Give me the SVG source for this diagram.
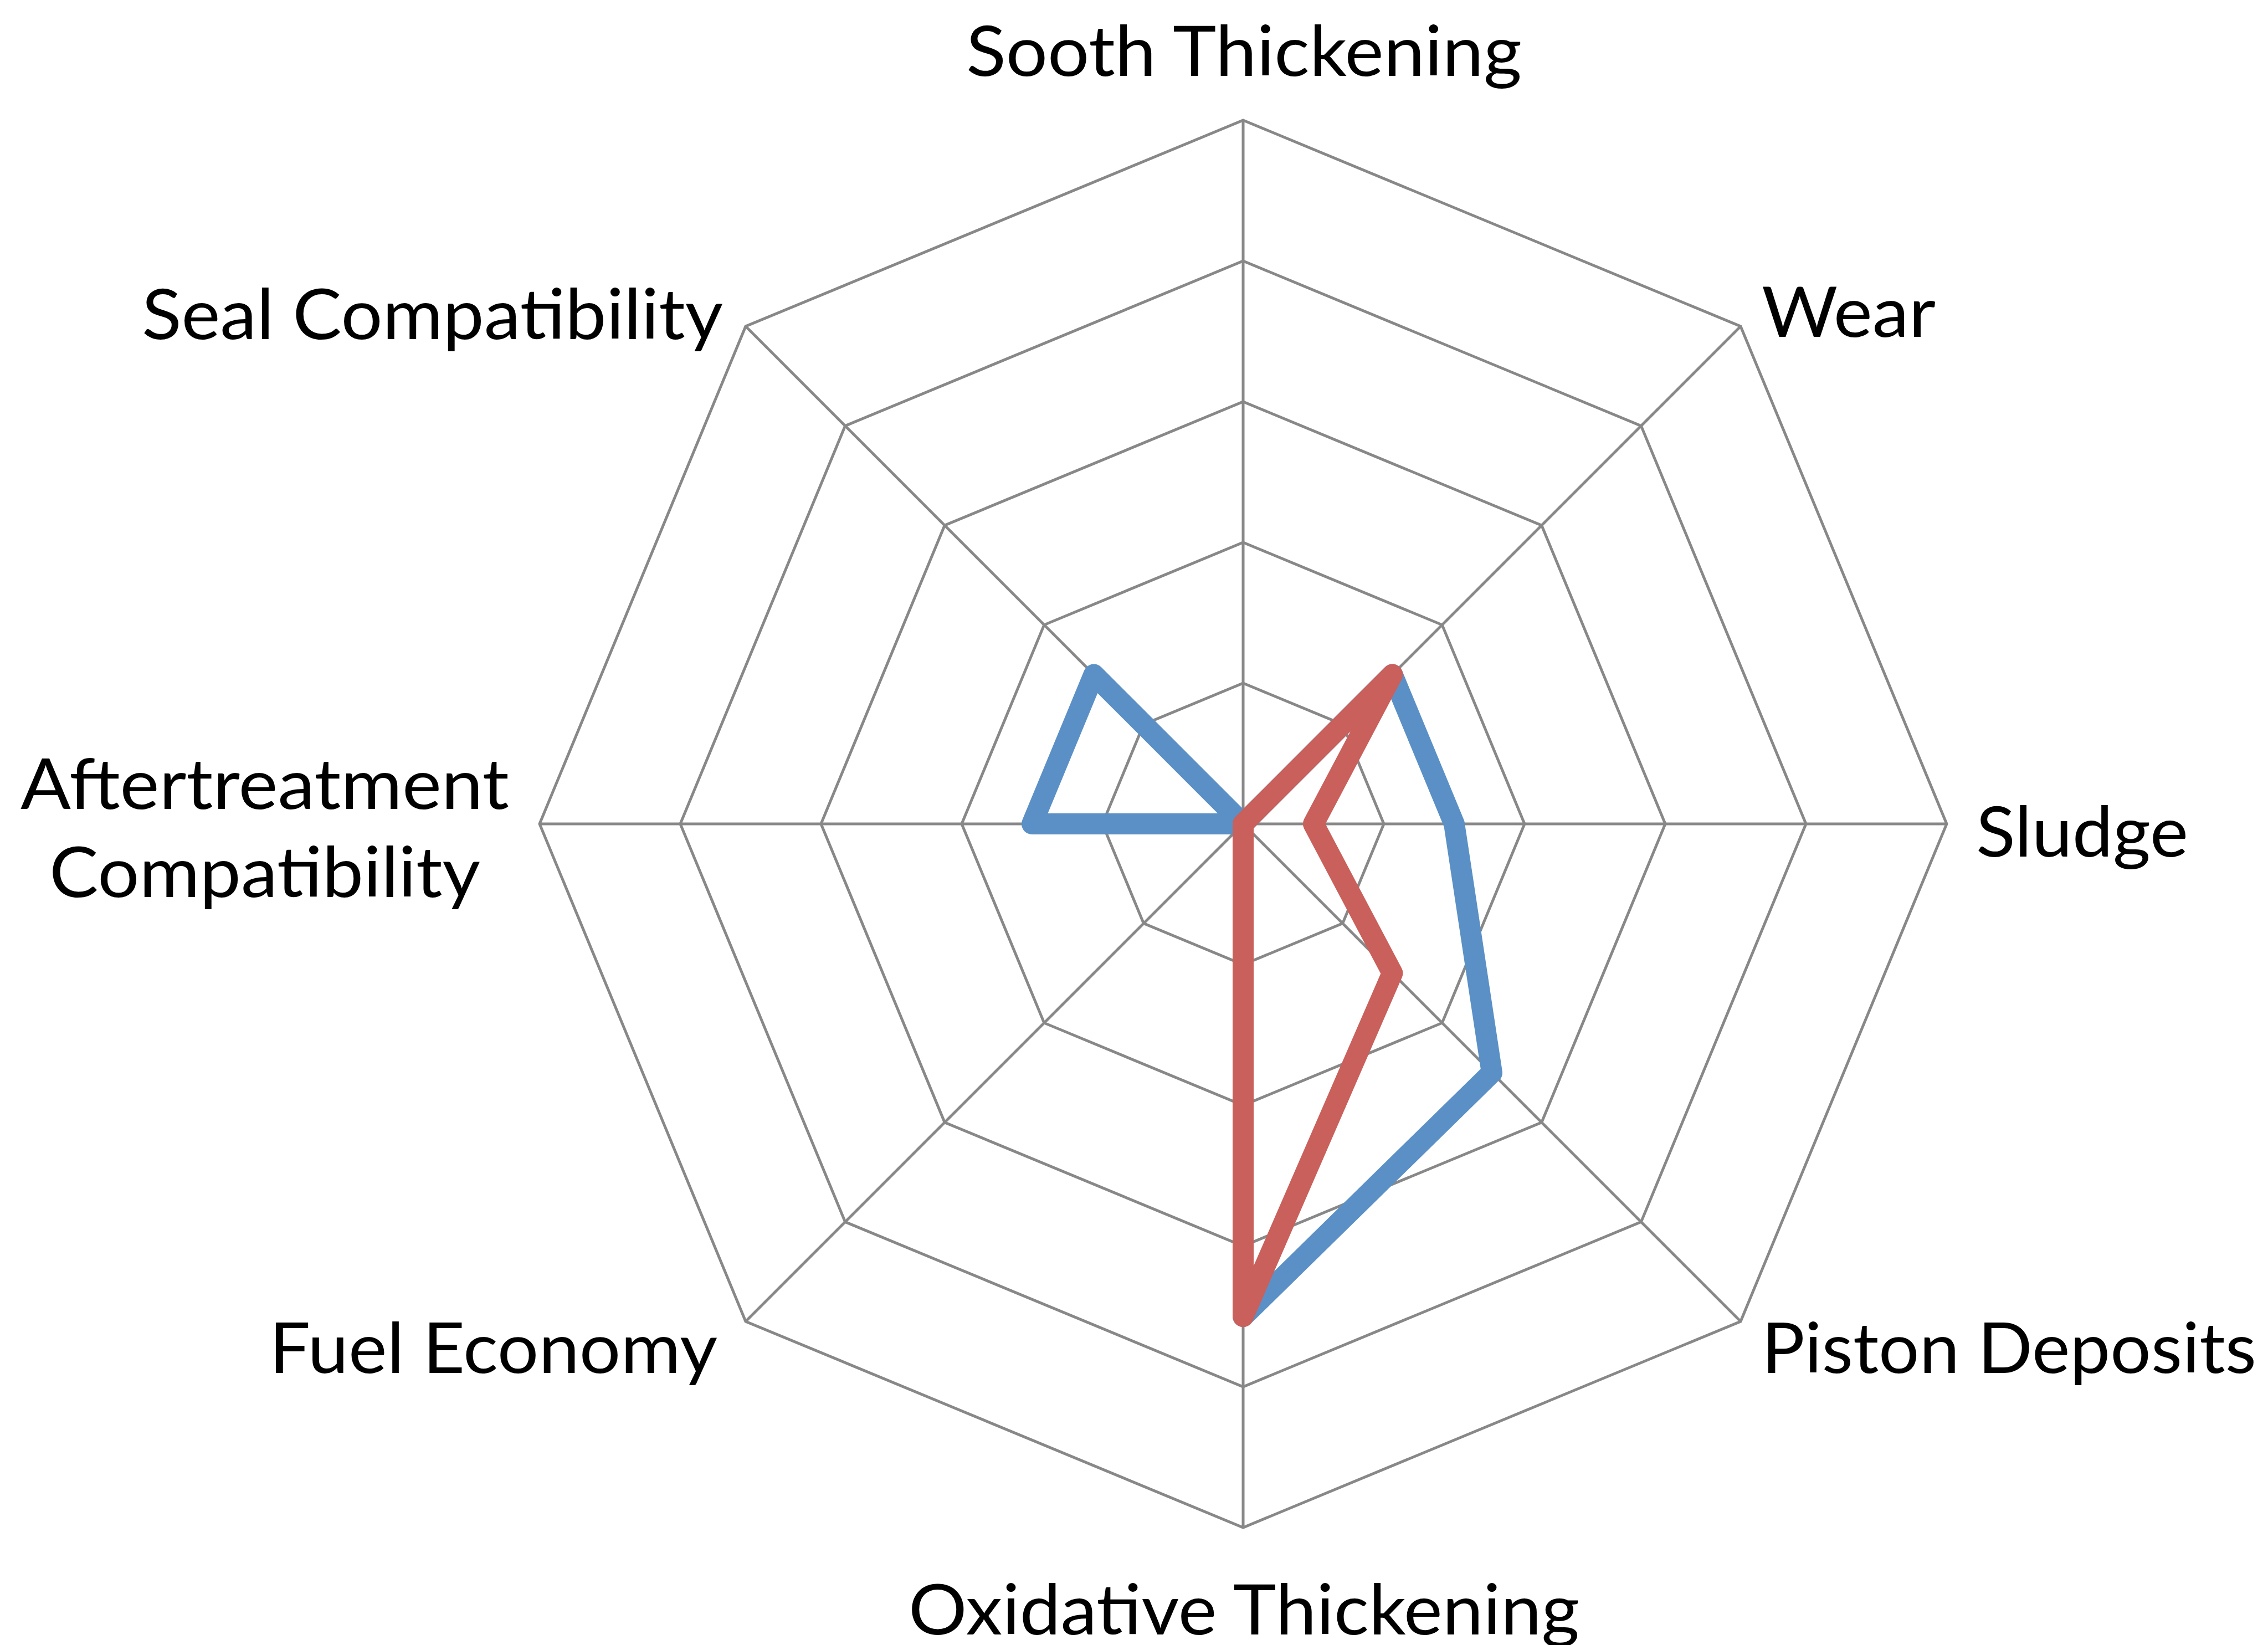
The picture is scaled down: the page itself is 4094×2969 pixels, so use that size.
<svg xmlns="http://www.w3.org/2000/svg" width="4094" height="2969" viewBox="0 0 4094 2969">
<style>
.ring{fill:none;stroke:#888;stroke-width:5}
.spoke{stroke:#888;stroke-width:5}
.lbl{font-family:Lato,"Open Sans","Liberation Sans",sans-serif;font-size:127px;fill:#000}
.blue{fill:none;stroke:#5b90c6;stroke-width:38;stroke-linejoin:round;stroke-linecap:round}
.red{fill:none;stroke:#c9605b;stroke-width:38;stroke-linejoin:round;stroke-linecap:round}
</style>
<rect width="4094" height="2969" fill="#fff"/>
<g id="grid">
<polygon class="ring" points="2244,1233 2423.6,1307.4 2498,1487 2423.6,1666.6 2244,1741 2064.4,1666.6 1990,1487 2064.4,1307.4"/>
<polygon class="ring" points="2244,979 2603.2,1127.8 2752,1487 2603.2,1846.2 2244,1995 1884.8,1846.2 1736,1487 1884.8,1127.8"/>
<polygon class="ring" points="2244,725 2782.8,948.2 3006,1487 2782.8,2025.8 2244,2249 1705.2,2025.8 1482,1487 1705.2,948.2"/>
<polygon class="ring" points="2244,471 2962.4,768.6 3260,1487 2962.4,2205.4 2244,2503 1525.6,2205.4 1228,1487 1525.6,768.6"/>
<polygon class="ring" points="2244,217 3142,589 3514,1487 3142,2385 2244,2757 1346,2385 974,1487 1346,589"/>
<line class="spoke" x1="2244" y1="1487" x2="2244" y2="217"/>
<line class="spoke" x1="2244" y1="1487" x2="3142" y2="589"/>
<line class="spoke" x1="2244" y1="1487" x2="3514" y2="1487"/>
<line class="spoke" x1="2244" y1="1487" x2="3142" y2="2385"/>
<line class="spoke" x1="2244" y1="1487" x2="2244" y2="2757"/>
<line class="spoke" x1="2244" y1="1487" x2="1346" y2="2385"/>
<line class="spoke" x1="2244" y1="1487" x2="974" y2="1487"/>
<line class="spoke" x1="2244" y1="1487" x2="1346" y2="589"/>
</g>
<g id="series">
<polygon id="series-blue" class="blue" points="2244,1487 2513.4,1217.6 2625,1487 2693,1936 2244,2376 2244,1487 1863,1487 1974.6,1217.6"/>
<polygon id="series-red" class="red" points="2244,1487 2513.4,1217.6 2371,1487 2513.4,1756.4 2244,2376 2244,1487 2244,1487 2244,1487"/>
</g>
<g id="labels">
<text id="lbl-sooth" class="lbl" x="1744" y="137" textLength="1003" lengthAdjust="spacingAndGlyphs">Sooth Thickening</text>
<text id="lbl-wear" class="lbl" x="3180" y="608" textLength="314" lengthAdjust="spacingAndGlyphs">Wear</text>
<text id="lbl-sludge" class="lbl" x="3567" y="1546" textLength="383" lengthAdjust="spacingAndGlyphs">Sludge</text>
<text id="lbl-piston" class="lbl" x="3180" y="2478" textLength="893" lengthAdjust="spacingAndGlyphs">Piston Deposits</text>
<text id="lbl-oxid" class="lbl" x="1640" y="2950" textLength="1211" lengthAdjust="spacingAndGlyphs">Oxidative Thickening</text>
<text id="lbl-fuel" class="lbl" x="486" y="2478" textLength="809" lengthAdjust="spacingAndGlyphs">Fuel Economy</text>
<text id="lbl-after1" class="lbl" x="37" y="1460" textLength="882" lengthAdjust="spacingAndGlyphs">Aftertreatment</text>
<text id="lbl-after2" class="lbl" x="89" y="1619" textLength="778" lengthAdjust="spacingAndGlyphs">Compatibility</text>
<text id="lbl-seal" class="lbl" x="256" y="612" textLength="1049" lengthAdjust="spacingAndGlyphs">Seal Compatibility</text>
</g>
</svg>
